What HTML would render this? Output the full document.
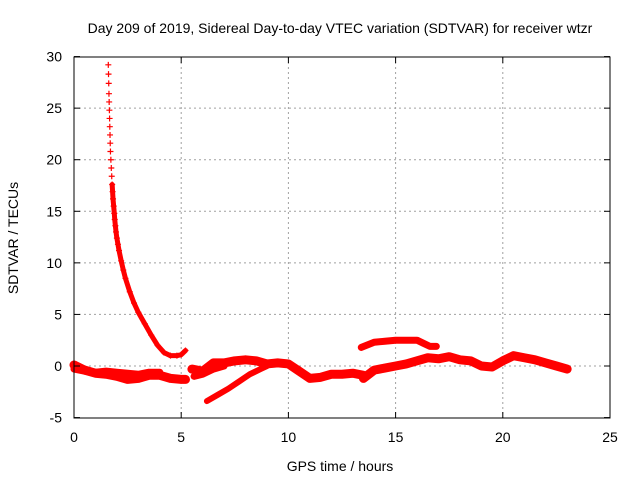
<!DOCTYPE html>
<html><head><meta charset="utf-8"><style>
body{margin:0;background:#fff}
text{font-family:"Liberation Sans",sans-serif;font-size:14px;fill:#000}
</style></head><body>
<svg id="chart" width="640" height="480" xmlns="http://www.w3.org/2000/svg">
<text x="340" y="33" text-anchor="middle">Day 209 of 2019, Sidereal Day-to-day VTEC variation (SDTVAR) for receiver wtzr</text>
<text x="340" y="471" text-anchor="middle">GPS time / hours</text>
<text transform="translate(18,238) rotate(-90)" text-anchor="middle">SDTVAR / TECUs</text>
<g id="grid"></g><g id="series"></g>
<rect x="74" y="57" width="536" height="361" fill="none" stroke="#000" stroke-width="1"/>
<g id="ticks"></g>
</svg>
<script>
const xTicks=[0,5,10,15,20,25];
const yTicks=[-5,0,5,10,15,20,25,30];
const spikeH=[1.6,1.61,1.62,1.63,1.64,1.65,1.66,1.67,1.68,1.69,1.7,1.72,1.74,1.76,1.78,1.8,1.82,1.85,1.88,1.9,1.93,1.96,2.0,2.05,2.1,2.2,2.3,2.4,2.6,2.8,3.0,3.3,3.6,3.9,4.2,4.5,4.8,5.0,5.2];
const spikeV=[29.2,28.3,27.4,26.4,25.6,24.8,24,23.2,22.4,21.6,20.8,20,19.2,18.4,17.6,16.9,16.2,15.5,14.8,14.2,13.6,13.0,12.4,11.8,11.2,10.2,9.3,8.5,7.2,6.1,5.2,4.1,3.0,2.0,1.3,1.0,1.0,1.1,1.5];
const bandAH=[0,0.5,1,1.5,2,2.5,3,3.5,4,4.5,5,5.2];
const bandAV=[0.1,-0.4,-0.7,-0.8,-1.0,-1.3,-1.2,-0.9,-0.9,-1.2,-1.3,-1.3];
const bandBH=[0,0.5,1.0,1.5,2.0,2.5,3.0,3.5,4.0];
const bandBV=[-0.3,-0.5,-0.6,-0.5,-0.6,-0.7,-0.8,-0.6,-0.6];
const bandCH=[5.5,6,6.5,7,7.5,8,8.5,9,9.5,10,10.5,11,11.5,12,12.5,13,13.5];
const bandCV=[-0.3,-0.5,0.3,0.3,0.5,0.6,0.5,0.2,0.3,0.2,-0.5,-1.2,-1.1,-0.8,-0.8,-0.7,-0.9];
const bandDH=[5.6,6.0,6.5,7.0];
const bandDV=[-1.0,-0.8,-0.3,0.0];
const bandEH=[6.2,6.7,7.2,7.7,8.2,8.7,9.0];
const bandEV=[-3.4,-2.8,-2.2,-1.5,-0.8,-0.3,0.0];
const bandFH=[13.4,14,14.5,15,15.5,16,16.3,16.6,16.9];
const bandFV=[1.8,2.3,2.4,2.5,2.5,2.5,2.2,1.9,1.9];
const bandGH=[13.5,14,14.5,15,15.5,16,16.5,17,17.5,18,18.5,19,19.5,20,20.5,21,21.5,22,22.5,23];
const bandGV=[-1.2,-0.4,-0.2,0,0.2,0.5,0.8,0.7,0.9,0.6,0.5,0.0,-0.1,0.5,1.0,0.8,0.6,0.3,0.0,-0.3];
const NS="http://www.w3.org/2000/svg";
const X=h=>74+h*(536/25);
const Y=v=>366-v*(361/35);
const grid=document.getElementById('grid'),ticks=document.getElementById('ticks'),ser=document.getElementById('series');
function mk(t,a,p){const e=document.createElementNS(NS,t);for(const k in a)e.setAttribute(k,a[k]);p.appendChild(e);return e;}
xTicks.forEach(t=>{
  if(t>0&&t<25){const g=mk('line',{x1:X(t),x2:X(t),y1:57,y2:418,stroke:'#a0a0a0','stroke-dasharray':'2,3'},grid);
  
  }
  const l=mk('text',{x:X(t),y:442,'text-anchor':'middle'},ticks);l.textContent=t;
  
  
});
yTicks.forEach(t=>{
  if(t>-5&&t<30){const g=mk('line',{x1:74,x2:610,y1:Y(t),y2:Y(t),stroke:'#a0a0a0','stroke-dasharray':'2,3'},grid);
  
  }
  mk('line',{x1:74,x2:80,y1:Y(t),y2:Y(t),stroke:'#000'},ticks);
  mk('line',{x1:604,x2:610,y1:Y(t),y2:Y(t),stroke:'#000'},ticks);
  const l=mk('text',{x:62,y:Y(t)+5,'text-anchor':'end'},ticks);l.textContent=t;
  
  
});
xTicks.forEach(t=>{mk('line',{x1:X(t),x2:X(t),y1:418,y2:412,stroke:'#000'},ticks);mk('line',{x1:X(t),x2:X(t),y1:57,y2:63,stroke:'#000'},ticks);});
function band(H,V,w,name){
  const p=mk('polyline',{points:H.map((h,i)=>X(h)+','+Y(V[i])).join(' '),fill:'none',stroke:'#f00','stroke-width':w,'stroke-linejoin':'round','stroke-linecap':'round'},ser);
  
  
}
band(bandAH,bandAV,9,'band-early-lower');
band(bandBH,bandBV,7,'band-early-upper');
band(bandCH,bandCV,9,'band-midday');
band(bandDH,bandDV,7,'band-short');
band(bandEH,bandEV,6,'band-rising');
band(bandFH,bandFV,7,'band-afternoon-upper');
band(bandGH,bandGV,9,'band-afternoon');
band(spikeH.slice(14),spikeV.slice(14),5,'spike-decay');
spikeH.forEach((h,i)=>{
  const x=X(h),y=Y(spikeV[i]);
  const m=mk('path',{d:`M${x-3},${y}H${x+3}M${x},${y-3}V${y+3}`,stroke:'#f00','stroke-width':1.2},ser);
  
  
});
</script>
</body></html>
